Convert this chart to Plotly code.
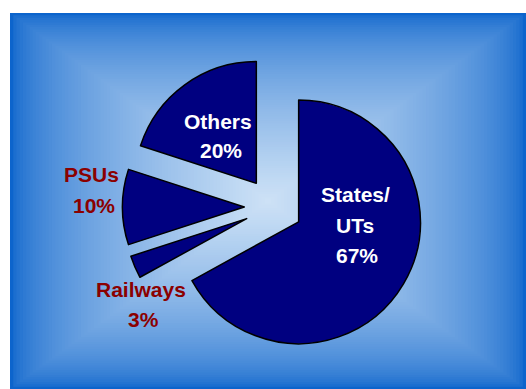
import plotly.graph_objects as go

# ---- data ----
labels = ["States/UTs", "Railways", "PSUs", "Others"]
values = [67, 3, 10, 20]
label_lines = [["States/", "UTs"], ["Railways"], ["PSUs"], ["Others"]]
pct_text = [f"{v}%" for v in values]

W, H = 526, 389
NAVY = "#000080"
RED = "#8B0000"

fig = go.Figure()

fig.add_trace(go.Pie(
    labels=labels,
    values=values,
    sort=False,
    direction="clockwise",
    rotation=0,
    pull=[0.24, 0.24, 0.24, 0.24],
    marker=dict(colors=[NAVY] * 4, line=dict(color="#000000", width=1.5)),
    textinfo="none",
    hoverinfo="label+percent",
    showlegend=False,
    domain=dict(x=[122.5 / W, 424.5 / W], y=[1 - 358 / H, 1 - 56 / H]),
))

# ---- background: rectangular path gradient from nested rectangles ----
px0, px1, py0, py1 = 10, 526, 13, 389
cxp, cyp = (px0 + px1) / 2, (py0 + py1) / 2
edge = (12, 100, 204)
center = (206, 226, 246)
N = 80
shapes = []
for i in range(N):
    f = i / N
    x0 = px0 + f * (cxp - px0)
    x1 = px1 - f * (px1 - cxp)
    y0 = py0 + f * (cyp - py0)
    y1 = py1 - f * (py1 - cyp)
    t = f ** 0.58
    c = tuple(int(round(edge[k] + (center[k] - edge[k]) * t)) for k in range(3))
    shapes.append(dict(
        type="rect", xref="paper", yref="paper", layer="below",
        x0=x0 / W, x1=x1 / W, y0=1 - y1 / H, y1=1 - y0 / H,
        line=dict(width=0), fillcolor=f"rgb{c}",
    ))

# ---- labels ----
label_pos = {
    "States/UTs": ([(355, 195), (355, 225)], (357, 255), "white"),
    "Railways": ([(141, 289)], (143, 319), RED),
    "PSUs": ([(91, 174.5)], (94, 205), RED),
    "Others": ([(218, 121)], (221, 151), "white"),
}
annotations = []
font_family = "Liberation Sans, Arial, sans-serif"
for lab, lines, pct in zip(labels, label_lines, pct_text):
    pos_lines, pos_pct, col = label_pos[lab]
    for txt, (x, y) in zip(lines + [pct], pos_lines + [pos_pct]):
        annotations.append(dict(
            text=f"<b>{txt}</b>", x=x / W, y=1 - y / H, xref="paper", yref="paper",
            xanchor="center", yanchor="middle", showarrow=False,
            font=dict(family=font_family, size=21, color=col),
        ))

fig.update_layout(
    width=W, height=H,
    margin=dict(l=0, r=0, t=0, b=0),
    paper_bgcolor="white",
    plot_bgcolor="rgba(0,0,0,0)",
    shapes=shapes,
    annotations=annotations,
)

fig.write_html("out.html")
